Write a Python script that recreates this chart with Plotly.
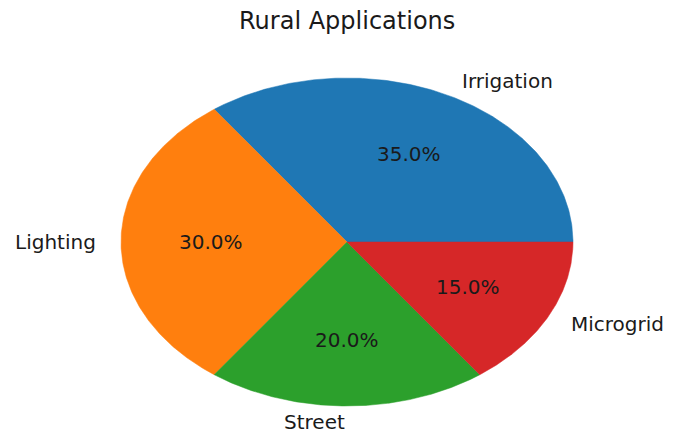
import numpy as np
import plotly.graph_objects as go

title = "Rural Applications"
categories = ["Irrigation", "Lighting", "Street", "Microgrid"]
shares = [35, 30, 20, 15]
colors = ["#1f77b4", "#ff7f0e", "#2ca02c", "#d62728"]

# page body has an 8px margin, so the figure is offset by 8px
OFF = 8
W, H = 678 - OFF, 430 - OFF
cx_px, cy_px = 347 - OFF, 242 - OFF
rx_px, ry_px = 226, 164

fig = go.Figure()

total = float(sum(shares))
start = 0.0
annotations = []
for cat, val, col in zip(categories, shares, colors):
    frac = val / total
    a0 = start * 360.0
    a1 = (start + frac) * 360.0
    t = np.radians(np.linspace(a0, a1, 200))
    xs = np.concatenate([[0], np.cos(t), [0]])
    ys = np.concatenate([[0], np.sin(t), [0]])
    fig.add_trace(go.Scatter(
        x=xs, y=ys, mode="lines", fill="toself",
        fillcolor=col, line=dict(color=col, width=0.5),
        hoverinfo="text", text=f"{cat}: {val/total*100:.1f}%",
        showlegend=False,
    ))
    mid = np.radians((a0 + a1) / 2)
    lx, ly = 1.1 * np.cos(mid), 1.1 * np.sin(mid)
    annotations.append(dict(
        x=lx, y=ly, xref="x", yref="y", text=cat, showarrow=False,
        xanchor="left" if lx > 0 else "right", yanchor="middle",
        font=dict(family="DejaVu Sans", size=20, color="#1a1a1a"),
    ))
    px_, py_ = 0.6 * np.cos(mid), 0.6 * np.sin(mid)
    annotations.append(dict(
        x=px_, y=py_, xref="x", yref="y", text=f"{val/total*100:.1f}%",
        showarrow=False, xanchor="center", yanchor="middle",
        font=dict(family="DejaVu Sans", size=20, color="#1a1a1a"),
    ))
    start += frac

annotations.append(dict(
    x=cx_px / W, y=1 - (21 - OFF) / H, xref="paper", yref="paper", text=title,
    showarrow=False, xanchor="center", yanchor="middle",
    font=dict(family="DejaVu Sans", size=24, color="#1a1a1a"),
))

fig.update_layout(
    width=W, height=H,
    margin=dict(l=0, r=0, t=0, b=0),
    paper_bgcolor="white", plot_bgcolor="white",
    xaxis=dict(range=[-cx_px / rx_px, (W - cx_px) / rx_px], visible=False, fixedrange=True),
    yaxis=dict(range=[-(H - cy_px) / ry_px, cy_px / ry_px], visible=False, fixedrange=True),
    annotations=annotations,
    showlegend=False,
)

fig.write_html("out.html")
